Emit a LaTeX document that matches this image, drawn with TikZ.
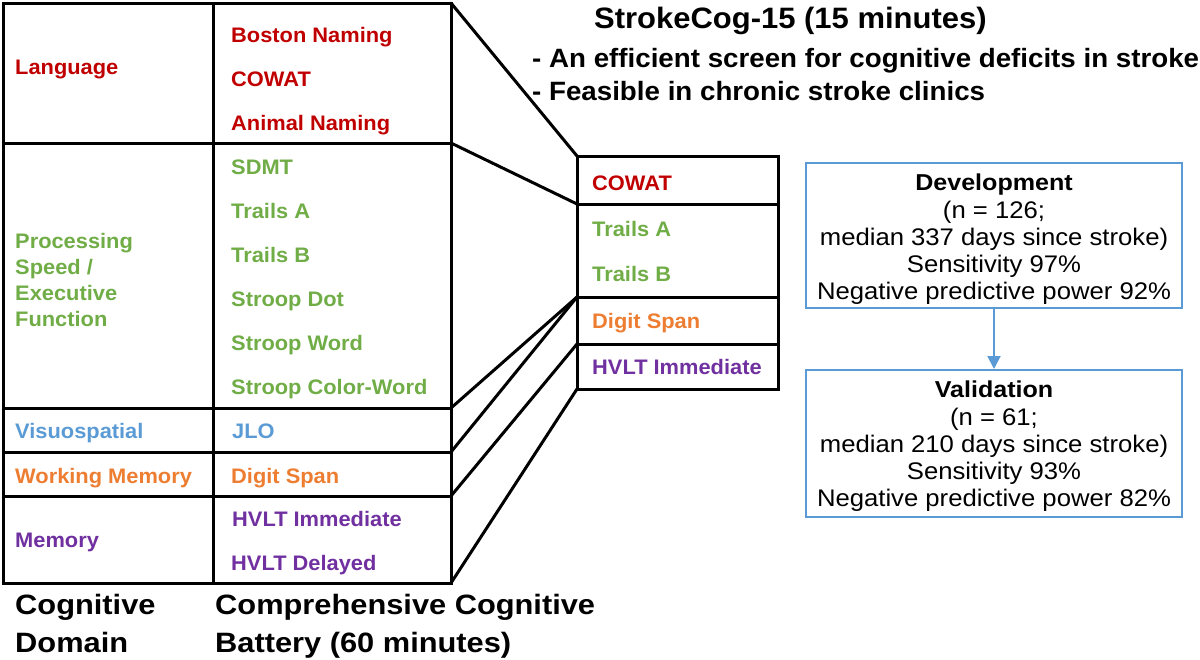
\documentclass[tikz,border=0pt]{standalone}
\usepackage{fontspec}
\setmainfont{Liberation Sans}
\usetikzlibrary{arrows.meta}
\definecolor{cred}{HTML}{C00000}
\definecolor{cgreen}{HTML}{70AD47}
\definecolor{cblue}{HTML}{5B9BD5}
\definecolor{corange}{HTML}{ED7D31}
\definecolor{cpurple}{HTML}{7030A0}
\begin{document}
\begin{tikzpicture}[x=1pt,y=-1pt,
  tab/.style={anchor=base west, inner sep=0pt, font=\fontsize{21}{25}\selectfont\bfseries\addfontfeature{FakeStretch=1.04}},
  big/.style={anchor=base west, inner sep=0pt, font=\fontsize{28}{32}\selectfont\bfseries\addfontfeature{FakeStretch=1.1}},
  ttl/.style={anchor=base west, inner sep=0pt, font=\fontsize{29.5}{33}\selectfont\bfseries\addfontfeature{FakeStretch=1.05}},
  bul/.style={anchor=base west, inner sep=0pt, font=\fontsize{26.5}{30}\selectfont\bfseries\addfontfeature{FakeStretch=1.046}},
  boxhead/.style={anchor=base, inner sep=0pt, font=\fontsize{23}{27}\selectfont\bfseries\addfontfeature{FakeStretch=1.09}},
  boxtxt/.style={anchor=base, inner sep=0pt, font=\fontsize{24}{27}\selectfont\addfontfeature{FakeStretch=1.07}},
  grid/.style={line width=3pt, black, line cap=rect},
  conn/.style={line width=3pt, black, line cap=round},
  bluebox/.style={draw=cblue, line width=2pt, minimum width=376pt, inner sep=0pt},
  bluearrow/.style={draw=cblue, line width=2pt, -{Triangle[width=13pt,length=13pt]}}
]
\useasboundingbox (0,0) rectangle (1200,659);

% ---------- left table ----------
\coordinate (TL) at (3,3);
\coordinate (TR) at (451,3);
\coordinate (BL) at (3,583);
\coordinate (BR) at (451,583);
\coordinate (R1) at (451,143);
\coordinate (R2) at (451,408);
\coordinate (R3) at (451,452);
\coordinate (R4) at (451,496);
\draw[grid] (TL) rectangle (BR);
\draw[grid] (213,3) -- (213,583);
\draw[grid] (3,143) -- (R1);
\draw[grid] (3,408) -- (R2);
\draw[grid] (3,452) -- (R3);
\draw[grid] (3,496) -- (R4);

% domain column
\node[tab, text=cred] (dLang) at (15,74.5) {Language};
\node[tab, text=cgreen] (dP1) at (15,248) {Processing};
\node[tab, text=cgreen] (dP2) at (15,274) {Speed /};
\node[tab, text=cgreen] (dP3) at (15,300) {Executive};
\node[tab, text=cgreen] (dP4) at (15,326) {Function};
\node[tab, text=cblue] (dVis) at (15,438) {Visuospatial};
\node[tab, text=corange] (dWM) at (15,483) {Working Memory};
\node[tab, text=cpurple] (dMem) at (15,547.5) {Memory};

% battery column
\node[tab, text=cred] (tBN) at (231,42.5) {Boston Naming};
\node[tab, text=cred] (tCO) at (231,86) {COWAT};
\node[tab, text=cred] (tAN) at (231,130) {Animal Naming};
\node[tab, text=cgreen] (tSD) at (231,174) {SDMT};
\node[tab, text=cgreen] (tTA) at (231,218) {Trails A};
\node[tab, text=cgreen] (tTB) at (231,262) {Trails B};
\node[tab, text=cgreen] (tSDot) at (231,306) {Stroop Dot};
\node[tab, text=cgreen] (tSW) at (231,350) {Stroop Word};
\node[tab, text=cgreen] (tSCW) at (231,394) {Stroop Color-Word};
\node[tab, text=cblue] (tJLO) at (232,438) {JLO};
\node[tab, text=corange] (tDS) at (231,483) {Digit Span};
\node[tab, text=cpurple] (tHI) at (232,526) {HVLT Immediate};
\node[tab, text=cpurple] (tHD) at (231,570) {HVLT Delayed};

% bottom labels
\node[big] (lab1a) at (15,614) {Cognitive};
\node[big] (lab1b) at (15,652) {Domain};
\node[big] (lab2a) at (215,614) {Comprehensive Cognitive};
\node[big] (lab2b) at (215,652) {Battery (60 minutes)};

% ---------- StrokeCog box ----------
\coordinate (STL) at (577,156);
\coordinate (SBR) at (778,389);
\coordinate (S1) at (577,204);
\coordinate (S2) at (577,297);
\coordinate (S3) at (577,344);
\coordinate (SBL) at (577,389);
\draw[grid] (STL) rectangle (SBR);
\draw[grid] (S1) -- (778,204);
\draw[grid] (S2) -- (778,297);
\draw[grid] (S3) -- (778,344);

\node[tab, text=cred] (sCO) at (592,190) {COWAT};
\node[tab, text=cgreen] (sTA) at (592,236) {Trails A};
\node[tab, text=cgreen] (sTB) at (592,281) {Trails B};
\node[tab, text=corange] (sDS) at (592,328) {Digit Span};
\node[tab, text=cpurple] (sHI) at (592,374.5) {HVLT Immediate};

% connectors
\draw[conn] (TR) -- (STL);
\draw[conn] (R1) -- (S1);
\draw[conn] (R2) -- (S2);
\draw[conn] (R3) -- (S2);
\draw[conn] (R4) -- (S3);
\draw[conn] (BR) -- (SBL);

% ---------- title ----------
\node[ttl] (title) at (594,28.5) {StrokeCog-15 (15 minutes)};
\node[bul] (b1) at (532,67.5) {- An efficient screen for cognitive deficits in stroke};
\node[bul] (b2) at (532,100) {- Feasible in chronic stroke clinics};

% ---------- development / validation ----------
\node[bluebox, minimum height=145pt] (dev) at (994,235.5) {};
\node[bluebox, minimum height=147pt] (val) at (994,443.5) {};
\draw[bluearrow] (dev.south) -- (val.north);

\node[boxhead] (dv1) at (994,190) {Development};
\node[boxtxt] (dv2) at (994,218) {(n = 126;};
\node[boxtxt] (dv3) at (994,245) {median 337 days since stroke)};
\node[boxtxt] (dv4) at (994,272) {Sensitivity 97\%};
\node[boxtxt] (dv5) at (994,299) {Negative predictive power 92\%};

\node[boxhead] (vl1) at (994,397) {Validation};
\node[boxtxt] (vl2) at (994,425) {(n = 61;};
\node[boxtxt] (vl3) at (994,452) {median 210 days since stroke)};
\node[boxtxt] (vl4) at (994,479) {Sensitivity 93\%};
\node[boxtxt] (vl5) at (994,506) {Negative predictive power 82\%};
\end{tikzpicture}
\end{document}
